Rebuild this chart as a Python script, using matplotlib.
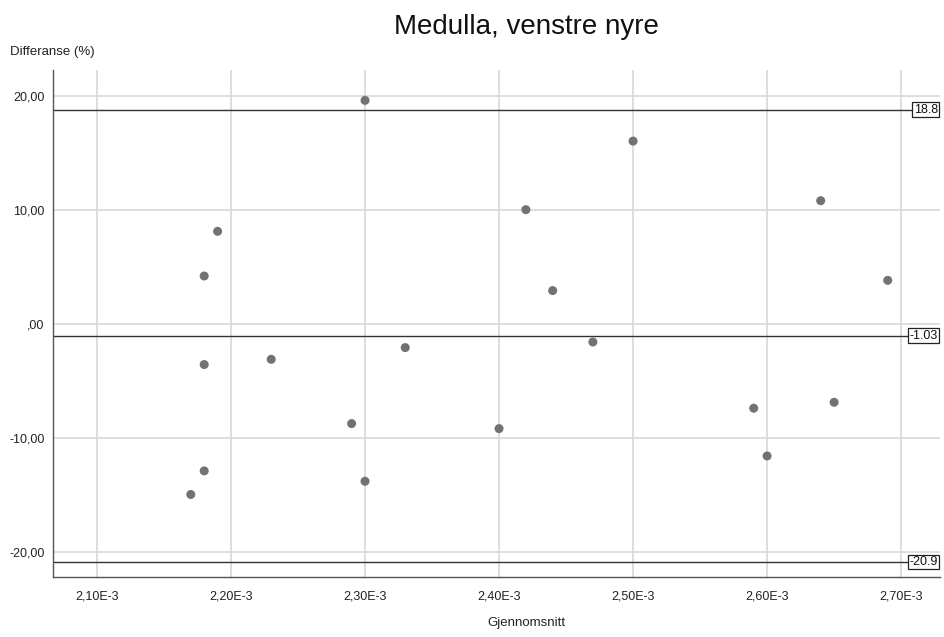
import matplotlib
matplotlib.use("Agg")
import matplotlib.pyplot as plt
from matplotlib.ticker import FuncFormatter, FixedLocator
from matplotlib.transforms import blended_transform_factory

plt.rcParams["font.family"] = ["Liberation Sans", "DejaVu Sans"]

# data: mean (Gjennomsnitt) vs difference (%)
mean_vals = [
    0.00217, 0.00218, 0.00218, 0.00218, 0.00219,
    0.00223, 0.00229, 0.00230, 0.00230, 0.00233,
    0.00240, 0.00242, 0.00244, 0.00247, 0.00250,
    0.00259, 0.00260, 0.00264, 0.00265, 0.00269,
]
diff_vals = [
    -14.96, -12.89, -3.56, 4.21, 8.13,
    -3.10, -8.74, -13.80, 19.62, -2.07,
    -9.18, 10.03, 2.93, -1.58, 16.05,
    -7.39, -11.58, 10.82, -6.87, 3.83,
]

ref_values = [18.8, -1.03, -20.9]
ref_labels = ["18.8", "-1.03", "-20.9"]

x_ticks = [0.00210, 0.00220, 0.00230, 0.00240, 0.00250, 0.00260, 0.00270]
y_ticks = [-20, -10, 0, 10, 20]

title = "Medulla, venstre nyre"
x_label = "Gjennomsnitt"
y_label = "Differanse (%)"


def fmt_x(v, pos):
    return f"{v * 1e3:.2f}".replace(".", ",") + "E-3"


def fmt_y(v, pos):
    s = f"{v:.2f}".replace(".", ",")
    if s == "0,00":
        s = ",00"
    return s


fig = plt.figure(figsize=(9.45, 6.37), dpi=100)
ax = fig.add_axes([0.0561, 0.0942, 0.9386, 0.7958])

ax.set_xlim(0.0020672, 0.002729)
ax.set_ylim(-22.2, 22.28)

ax.xaxis.set_major_locator(FixedLocator(x_ticks))
ax.yaxis.set_major_locator(FixedLocator(y_ticks))
ax.xaxis.set_major_formatter(FuncFormatter(fmt_x))
ax.yaxis.set_major_formatter(FuncFormatter(fmt_y))

ax.grid(True, color="#d8d8d8", linewidth=1.2, zorder=0)
ax.set_axisbelow(True)
ax.tick_params(length=0, labelsize=9, colors="#222222")
ax.tick_params(axis="x", pad=10)
ax.tick_params(axis="y", pad=6)

for side in ["top", "right"]:
    ax.spines[side].set_visible(False)
for side in ["left", "bottom"]:
    ax.spines[side].set_color("#555555")
    ax.spines[side].set_linewidth(1.0)

trans = blended_transform_factory(ax.transAxes, ax.transData)
for val, lab in zip(ref_values, ref_labels):
    ax.axhline(val, color="#333333", linewidth=1.0, zorder=2)
    ax.text(0.9975, val, lab, transform=trans, ha="right", va="center",
            fontsize=9, color="#111111", zorder=4,
            bbox=dict(boxstyle="square,pad=0.1", facecolor="white",
                      edgecolor="#222222", linewidth=0.9))

ax.scatter(mean_vals, diff_vals, s=42, color="#727272", edgecolors="none",
           zorder=3)

fig.text(0.557, 0.958, title, ha="center", va="center", fontsize=20,
         color="#111111")
fig.text(0.011, 0.918, y_label, ha="left", va="center", fontsize=9.5,
         color="#222222")
fig.text(0.557, 0.022, x_label, ha="center", va="center", fontsize=9.5,
         color="#222222")

fig.savefig("out.png", dpi=100)
